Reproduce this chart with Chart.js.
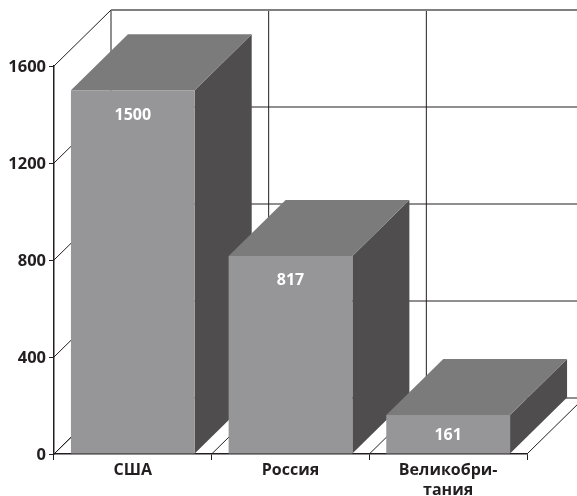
<!DOCTYPE html>
<html>
<head>
<meta charset="utf-8">
<style>
html, body { margin: 0; padding: 0; background: #fff; }
canvas { display: block; }
</style>
<script src="https://cdn.jsdelivr.net/npm/chart.js@4/dist/chart.umd.min.js"></script>
</head>
<body>
<canvas id="myChart" width="577" height="496"></canvas>
<script>
var categories = ["США", "Россия", ["Великобри-", "тания"]];
var values = [1500, 817, 161];
var tick_values = [0, 400, 800, 1200, 1600];

var depth_x = 57;
var depth_y = 56;
var line_color = "#231f20";

function face(ctx, points, color) {
    ctx.fillStyle = color;
    ctx.beginPath();
    ctx.moveTo(points[0][0], points[0][1]);
    for (var i = 1; i < points.length; i++) {
        ctx.lineTo(points[i][0], points[i][1]);
    }
    ctx.closePath();
    ctx.fill();
}

function crisp_line(ctx, x1, y1, x2, y2) {
    ctx.beginPath();
    ctx.moveTo(x1, y1);
    ctx.lineTo(x2, y2);
    ctx.stroke();
}

// back walls and floor, everything shifted by the depth
var walls = {
    id: "walls",
    beforeDatasetsDraw: function (chart) {
        var ctx = chart.ctx;
        var sx = chart.scales.x;
        var sy = chart.scales.y;
        var step = (sx.right - sx.left) / categories.length;
        ctx.save();
        ctx.strokeStyle = line_color;
        ctx.lineWidth = 1;
        for (var i = 0; i < tick_values.length; i++) {
            var y = sy.getPixelForValue(tick_values[i]);
            crisp_line(ctx, sx.left, y, sx.left + depth_x, y - depth_y);
            crisp_line(ctx, sx.left + depth_x, y - depth_y, sx.right + depth_x, y - depth_y);
        }
        for (var j = 0; j <= categories.length; j++) {
            var x = sx.left + step * j;
            crisp_line(ctx, x, sy.bottom, x + depth_x, sy.bottom - depth_y);
            crisp_line(ctx, x + depth_x, sy.bottom - depth_y, x + depth_x, sy.top - depth_y);
        }
        // the top edge of the back wall is heavier and greyer
        ctx.strokeStyle = "#808082";
        ctx.lineWidth = 2;
        crisp_line(ctx, sx.left + depth_x, sy.top - depth_y, sx.right + depth_x, sy.top - depth_y);
        ctx.restore();
    }
};

// side and top of the bars, the front is the normal bar
var bar_depth = {
    id: "bar_depth",
    beforeDatasetsDraw: function (chart) {
        var ctx = chart.ctx;
        var bars = chart.getDatasetMeta(0).data;
        ctx.save();
        for (var i = 0; i < bars.length; i++) {
            var b = bars[i];
            var left = b.x - b.width / 2;
            var right = b.x + b.width / 2;
            face(ctx, [[right, b.y], [right + depth_x, b.y - depth_y], [right + depth_x, b.base - depth_y], [right, b.base]], "#4f4d4e");
            face(ctx, [[left, b.y], [left + depth_x, b.y - depth_y], [right + depth_x, b.y - depth_y], [right, b.y]], "#7b7b7c");
        }
        ctx.restore();
    },
    afterDatasetsDraw: function (chart) {
        var ctx = chart.ctx;
        var bars = chart.getDatasetMeta(0).data;
        ctx.save();
        ctx.fillStyle = "#ffffff";
        ctx.font = "bold 16px 'Open Sans'";
        ctx.textAlign = "center";
        ctx.textBaseline = "middle";
        for (var i = 0; i < bars.length; i++) {
            var b = bars[i];
            ctx.fillText(values[i], b.x, b.y + Math.min(25, (b.base - b.y) / 2 + 1));
        }
        ctx.restore();
    }
};

var chart = new Chart(document.getElementById("myChart").getContext("2d"), {
    type: "bar",
    data: {
        labels: categories,
        datasets: [{
            data: values,
            backgroundColor: "#969698",
            borderWidth: 0,
            barPercentage: 0.785,
            categoryPercentage: 1
        }]
    },
    options: {
        responsive: false,
        animation: false,
        layout: { padding: { left: 0, right: 50, top: 66, bottom: 0 } },
        plugins: { legend: { display: false }, tooltip: { enabled: false } },
        scales: {
            x: {
                grid: { drawOnChartArea: false, color: line_color, tickLength: 6 },
                border: { color: line_color, width: 1.5 },
                ticks: {
                    color: line_color,
                    padding: 0,
                    maxRotation: 0,
                    autoSkip: false,
                    font: { family: "'Open Sans'", size: 16, weight: "bold", lineHeight: 1.25 }
                },
                afterFit: function (scale) {
                    scale.height = 42;
                    scale.paddingLeft = 0;
                    scale.paddingRight = 0;
                }
            },
            y: {
                min: 0,
                max: 1600,
                afterBuildTicks: function (scale) {
                    scale.ticks = tick_values.map(function (v) { return { value: v }; });
                },
                grid: { drawOnChartArea: false, color: line_color, tickLength: 5 },
                border: { color: line_color, width: 1.5 },
                ticks: {
                    color: line_color,
                    padding: 3,
                    labelOffset: 1.5,
                    callback: function (v) { return String(v); },
                    font: { family: "'Open Sans'", size: 16.5, weight: "bold" }
                },
                afterFit: function (scale) {
                    scale.width = 54;
                    scale.paddingTop = 0;
                    scale.paddingBottom = 0;
                }
            }
        }
    },
    plugins: [walls, bar_depth]
});
</script>
</body>
</html>
